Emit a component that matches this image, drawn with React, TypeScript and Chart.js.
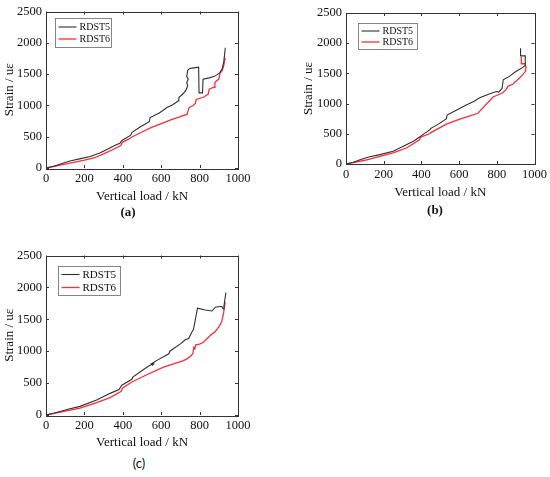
import { useEffect, useRef } from "react";
import { Chart, registerables } from "chart.js";

Chart.register(...registerables);

// --- data (load in kN, strain in uε) ---
const seriesNames = ["RDST5", "RDST6"];
const seriesColors = ["#2e2e2e", "#ff2a3a"];

const xTickValues = [0, 200, 400, 600, 800, 1000];
const yTickValues = [0, 500, 1000, 1500, 2000, 2500];

// (a)
const loadA5 = [0, 40, 75, 125, 180, 230, 280, 320, 360, 385, 395, 440, 448, 490, 538, 542, 590, 630, 660, 688, 692, 715, 728, 738, 733, 741, 733, 738, 748, 770, 795, 797, 815, 818, 850, 875, 905, 918, 926, 934];
const strainA5 = [0, 28, 63, 112, 150, 183, 240, 300, 365, 395, 440, 520, 570, 655, 740, 805, 880, 965, 1010, 1070, 1125, 1190, 1240, 1310, 1370, 1420, 1460, 1560, 1590, 1600, 1610, 1200, 1200, 1420, 1440, 1460, 1520, 1590, 1700, 1920];
const loadA6 = [0, 50, 100, 150, 200, 250, 300, 350, 390, 398, 430, 450, 500, 550, 600, 650, 700, 735, 742, 748, 765, 778, 782, 820, 845, 850, 875, 880, 900, 906, 918, 927, 933];
const strainA6 = [0, 30, 62, 95, 125, 160, 225, 295, 360, 410, 460, 500, 575, 650, 710, 770, 820, 860, 940, 970, 995, 1030, 1095, 1130, 1180, 1260, 1290, 1370, 1420, 1510, 1560, 1650, 1760];

// (b)
const loadB5 = [0, 40, 74, 120, 180, 250, 320, 360, 392, 400, 444, 450, 490, 533, 536, 590, 638, 680, 709, 760, 797, 810, 828, 834, 868, 903, 938, 951, 951, 926, 926];
const strainB5 = [0, 30, 72, 115, 155, 210, 320, 380, 450, 470, 565, 590, 660, 750, 810, 900, 975, 1040, 1095, 1160, 1200, 1190, 1250, 1395, 1455, 1535, 1600, 1630, 1790, 1790, 1915];
const loadB6 = [0, 50, 100, 180, 250, 321, 390, 396, 444, 450, 533, 600, 650, 700, 780, 832, 850, 860, 885, 912, 938, 952, 955, 950, 930, 930];
const strainB6 = [0, 32, 62, 127, 183, 265, 400, 445, 500, 520, 660, 740, 790, 840, 1110, 1180, 1235, 1290, 1320, 1400, 1480, 1535, 1600, 1660, 1660, 1770];

// (c)
const loadC5 = [0, 40, 73, 120, 177, 264, 334, 380, 395, 447, 452, 525, 548, 560, 555, 548, 580, 640, 645, 700, 725, 743, 760, 768, 789, 829, 864, 882, 905, 916, 922, 927, 937];
const strainC5 = [0, 28, 56, 95, 135, 236, 339, 400, 467, 560, 595, 749, 790, 800, 780, 800, 860, 960, 1000, 1115, 1180, 1200, 1300, 1340, 1675, 1645, 1630, 1690, 1700, 1700, 1665, 1710, 1920];
const loadC6 = [0, 50, 100, 177, 264, 334, 392, 398, 447, 525, 612, 717, 734, 752, 765, 770, 775, 780, 800, 820, 840, 860, 880, 900, 915, 925, 933];
const strainC6 = [0, 28, 60, 108, 195, 272, 370, 420, 518, 631, 749, 852, 880, 920, 960, 1060, 1040, 1100, 1110, 1140, 1200, 1260, 1300, 1380, 1460, 1600, 1770];

const SERIF = "'Liberation Serif', 'DejaVu Serif', serif";

type LegendCfg = { dx: number; dy: number; w: number; h: number; font: number; row: number };

// frame round the plot area with inward tick marks
const framePlugin = {
  id: "frameTicks",
  afterDraw(chart: any) {
    const { ctx, chartArea, scales } = chart;
    const { left, right, top, bottom } = chartArea;
    ctx.save();
    ctx.strokeStyle = "#333";
    ctx.lineWidth = 1;
    ctx.strokeRect(Math.round(left) + 0.5, Math.round(top) + 0.5, Math.round(right - left), Math.round(bottom - top));
    ctx.beginPath();
    xTickValues.forEach((v) => {
      const px = Math.round(scales.x.getPixelForValue(v)) + 0.5;
      ctx.moveTo(px, bottom);
      ctx.lineTo(px, bottom - 3);
      ctx.moveTo(px, top);
      ctx.lineTo(px, top + 3);
    });
    yTickValues.forEach((v) => {
      const py = Math.round(scales.y.getPixelForValue(v)) + 0.5;
      ctx.moveTo(left, py);
      ctx.lineTo(left + 3, py);
      ctx.moveTo(right, py);
      ctx.lineTo(right - 3, py);
    });
    ctx.stroke();
    ctx.restore();
  },
};

// boxed legend in the top-left corner of the plot
const boxLegendPlugin = {
  id: "boxLegend",
  afterDraw(chart: any, _args: any, opts: LegendCfg) {
    const { ctx, chartArea } = chart;
    const x0 = Math.round(chartArea.left + opts.dx) + 0.5;
    const y0 = Math.round(chartArea.top + opts.dy) + 0.5;
    ctx.save();
    ctx.strokeStyle = "#666";
    ctx.lineWidth = 0.8;
    ctx.strokeRect(x0, y0, opts.w, opts.h);
    ctx.font = `${opts.font}px ${SERIF}`;
    ctx.textBaseline = "middle";
    ctx.fillStyle = "#111";
    chart.data.datasets.forEach((ds: any, i: number) => {
      const ry = y0 + opts.h / 2 + (i - 0.5) * opts.row;
      ctx.strokeStyle = ds.borderColor;
      ctx.lineWidth = ds.borderWidth;
      ctx.beginPath();
      ctx.moveTo(x0 + 3, ry);
      ctx.lineTo(x0 + 21, ry);
      ctx.stroke();
      ctx.fillText(ds.label, x0 + 24, ry + 0.5);
    });
    ctx.restore();
  },
};

type PanelProps = {
  load5: number[];
  strain5: number[];
  load6: number[];
  strain6: number[];
  left: number;
  top: number;
  width: number;
  height: number;
  padLeft: number;
  padTop: number;
  padRight: number;
  yAxisWidth: number;
  xAxisHeight: number;
  legend: LegendCfg;
};

function Panel(p: PanelProps) {
  const canvasRef = useRef<HTMLCanvasElement | null>(null);

  useEffect(() => {
    const canvas = canvasRef.current;
    if (!canvas) return;

    const toPoints = (xs: number[], ys: number[]) => xs.map((x, i) => ({ x, y: ys[i] }));

    const chart = new Chart(canvas, {
      type: "scatter",
      data: {
        datasets: [
          {
            label: seriesNames[0],
            data: toPoints(p.load5, p.strain5),
            borderColor: seriesColors[0],
            backgroundColor: seriesColors[0],
            borderWidth: 1.1,
            showLine: true,
            pointRadius: 0,
            tension: 0,
          },
          {
            label: seriesNames[1],
            data: toPoints(p.load6, p.strain6),
            borderColor: seriesColors[1],
            backgroundColor: seriesColors[1],
            borderWidth: 1.3,
            showLine: true,
            pointRadius: 0,
            tension: 0,
          },
        ],
      },
      options: {
        animation: false,
        responsive: false,
        maintainAspectRatio: false,
        layout: { padding: { left: p.padLeft, top: p.padTop, right: p.padRight, bottom: 0 } },
        plugins: {
          legend: { display: false },
          tooltip: { enabled: false },
          boxLegend: p.legend,
        } as any,
        scales: {
          x: {
            type: "linear",
            min: 0,
            max: 1000,
            grid: { display: false, drawTicks: false },
            border: { display: false },
            afterBuildTicks: (s: any) => {
              s.ticks = xTickValues.map((value) => ({ value }));
            },
            afterFit: (s: any) => {
              s.height = p.xAxisHeight;
            },
            ticks: {
              font: { family: SERIF, size: 12.5 },
              color: "#111",
              padding: 3,
              maxRotation: 0,
              autoSkip: false,
              callback: (v: any) => String(v),
            },
            title: {
              display: true,
              text: "Vertical load / kN",
              font: { family: SERIF, size: 13 },
              color: "#111",
              padding: 0,
            },
          },
          y: {
            type: "linear",
            min: 0,
            max: 2500,
            grid: { display: false, drawTicks: false },
            border: { display: false },
            afterBuildTicks: (s: any) => {
              s.ticks = yTickValues.map((value) => ({ value }));
            },
            afterFit: (s: any) => {
              s.width = p.yAxisWidth;
            },
            ticks: {
              font: { family: SERIF, size: 12.5 },
              color: "#111",
              padding: 4,
              autoSkip: false,
              callback: (v: any) => String(v),
            },
            title: {
              display: true,
              text: "Strain / uε",
              font: { family: SERIF, size: 13 },
              color: "#111",
              padding: 0,
            },
          },
        },
      },
      plugins: [framePlugin, boxLegendPlugin],
    });

    return () => {
      chart.destroy();
    };
  }, [p]);

  return (
    <canvas
      ref={canvasRef}
      width={p.width}
      height={p.height}
      style={{ position: "absolute", left: p.left, top: p.top, width: p.width, height: p.height }}
    />
  );
}

const panelA: PanelProps = {
  load5: loadA5, strain5: strainA5, load6: loadA6, strain6: strainA6,
  left: 0, top: 0, width: 270, height: 204,
  padLeft: 2, padTop: 9, padRight: 32, yAxisWidth: 44, xAxisHeight: 36,
  legend: { dx: 9, dy: 6, w: 56, h: 29, font: 10, row: 12 },
};

const panelB: PanelProps = {
  load5: loadB5, strain5: strainB5, load6: loadB6, strain6: strainB6,
  left: 300, top: 0, width: 250, height: 200,
  padLeft: 1, padTop: 13, padRight: 15, yAxisWidth: 45, xAxisHeight: 36,
  legend: { dx: 12, dy: 10, w: 59, h: 26, font: 10, row: 11 },
};

const panelC: PanelProps = {
  load5: loadC5, strain5: strainC5, load6: loadC6, strain6: strainC6,
  left: 0, top: 244, width: 270, height: 206,
  padLeft: 2, padTop: 9, padRight: 32, yAxisWidth: 44, xAxisHeight: 35,
  legend: { dx: 12, dy: 10, w: 62, h: 29, font: 11, row: 13 },
};

const captionStyle = (x: number, y: number, bold: boolean, family: string) =>
  ({
    position: "absolute",
    left: x - 20,
    top: y - 9,
    width: 40,
    height: 18,
    lineHeight: "18px",
    textAlign: "center",
    fontFamily: family,
    fontWeight: bold ? 700 : 400,
    fontSize: 13,
    color: "#111",
  }) as const;

export default function App() {
  return (
    <div style={{ position: "absolute", left: 0, top: 0, width: 550, height: 477, background: "#fff", overflow: "hidden" }}>
      <Panel {...panelA} />
      <Panel {...panelB} />
      <Panel {...panelC} />
      <div style={captionStyle(128, 212, true, SERIF)}>(a)</div>
      <div style={captionStyle(435, 210, true, SERIF)}>(b)</div>
      <div style={captionStyle(139, 463, false, "Lato, 'Open Sans', sans-serif")}>(c)</div>
    </div>
  );
}
